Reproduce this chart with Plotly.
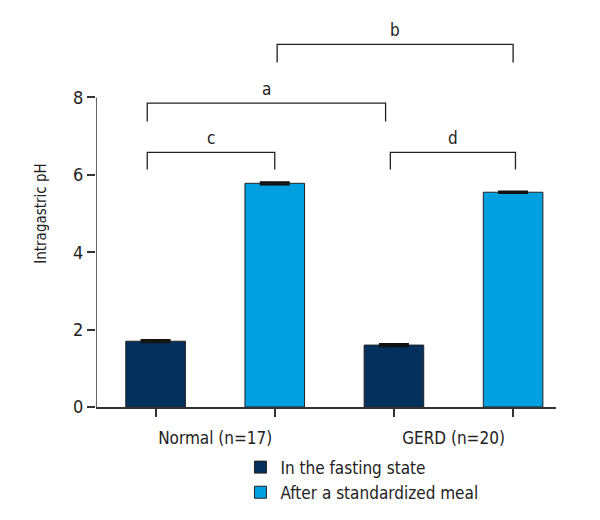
import plotly.graph_objects as go

groups = ["Normal (n=17)", "GERD (n=20)"]
series_names = ["In the fasting state", "After a standardized meal"]
fasting = [1.70, 1.60]
meal = [5.78, 5.55]
fasting_err = [0.03, 0.03]
meal_err = [0.03, 0.02]
y_ticks = [0, 2, 4, 6, 8]
bracket_labels = ["c", "a", "b", "d"]

FONT = "DejaVu Sans Condensed, Liberation Sans Narrow, sans-serif"
dark = "#03305c"
light = "#009fe0"

x_fast = [0, 2]
x_meal = [1, 3]

fig = go.Figure()
fig.add_trace(go.Bar(x=x_fast, y=fasting, name=series_names[0], width=0.5,
                     marker=dict(color=dark, line=dict(color="#222", width=1)),
                     error_y=dict(type="data", array=fasting_err, visible=True,
                                  color="#111", thickness=2, width=15)))
fig.add_trace(go.Bar(x=x_meal, y=meal, name=series_names[1], width=0.5,
                     marker=dict(color=light, line=dict(color="#222", width=1)),
                     error_y=dict(type="data", array=meal_err, visible=True,
                                  color="#111", thickness=2, width=15)))

# brackets: (x0, x1, y_top, y_bottom, label)
brackets = [
    (-0.07, 1.0, 6.58, 6.14, bracket_labels[0]),
    (-0.07, 1.93, 7.85, 7.38, bracket_labels[1]),
    (1.02, 3.0, 9.37, 8.90, bracket_labels[2]),
    (1.97, 3.02, 6.58, 6.14, bracket_labels[3]),
]
for x0, x1, yt, yb, lab in brackets:
    fig.add_shape(type="path", xref="x", yref="y",
                  path=f"M {x0},{yb} L {x0},{yt} L {x1},{yt} L {x1},{yb}",
                  line=dict(color="#222", width=1.3))
    fig.add_annotation(x=(x0 + x1) / 2, y=yt, text=lab, showarrow=False,
                       yanchor="bottom", yshift=2,
                       font=dict(family=FONT, size=17, color="#222"))

# y axis line only from 0 to 8
fig.add_shape(type="line", xref="x", yref="y", x0=-0.5, x1=-0.5, y0=0, y1=8,
              line=dict(color="#333", width=1.5))

fig.update_layout(
    width=592, height=512,
    paper_bgcolor="white", plot_bgcolor="white",
    margin=dict(l=88, r=44, t=12, b=113, autoexpand=False),
    barmode="overlay",
    showlegend=True,
    legend=dict(x=0.314, y=-0.11, xanchor="left", yanchor="top",
                font=dict(family=FONT, size=17, color="#222"),
                tracegroupgap=0, itemwidth=30),
    font=dict(family=FONT, color="#222"),
)
fig.update_xaxes(range=[-0.5, 3.36], showgrid=False, zeroline=False,
                 showline=True, linecolor="#333", linewidth=1.5,
                 automargin=False,
                 tickmode="array", tickvals=[0.5, 2.5], ticktext=groups,
                 ticks="", ticklabelstandoff=15,
                 tickfont=dict(family=FONT, size=17, color="#222"),
                 minor=dict(tickmode="array", tickvals=[0, 1, 2, 3],
                            ticks="outside", ticklen=8, tickwidth=1.5,
                            tickcolor="#333", showgrid=False))
fig.update_yaxes(range=[0, 10], showgrid=False, zeroline=False, showline=False,
                 automargin=False,
                 tickmode="array", tickvals=y_ticks,
                 ticks="outside", ticklen=8, tickwidth=1.5, tickcolor="#333",
                 tickfont=dict(family=FONT, size=18, color="#222"),
                 title=dict(text="Intragastric pH",
                            font=dict(family=FONT, size=15, color="#222"),
                            standoff=22))

fig.write_html("out.html")
